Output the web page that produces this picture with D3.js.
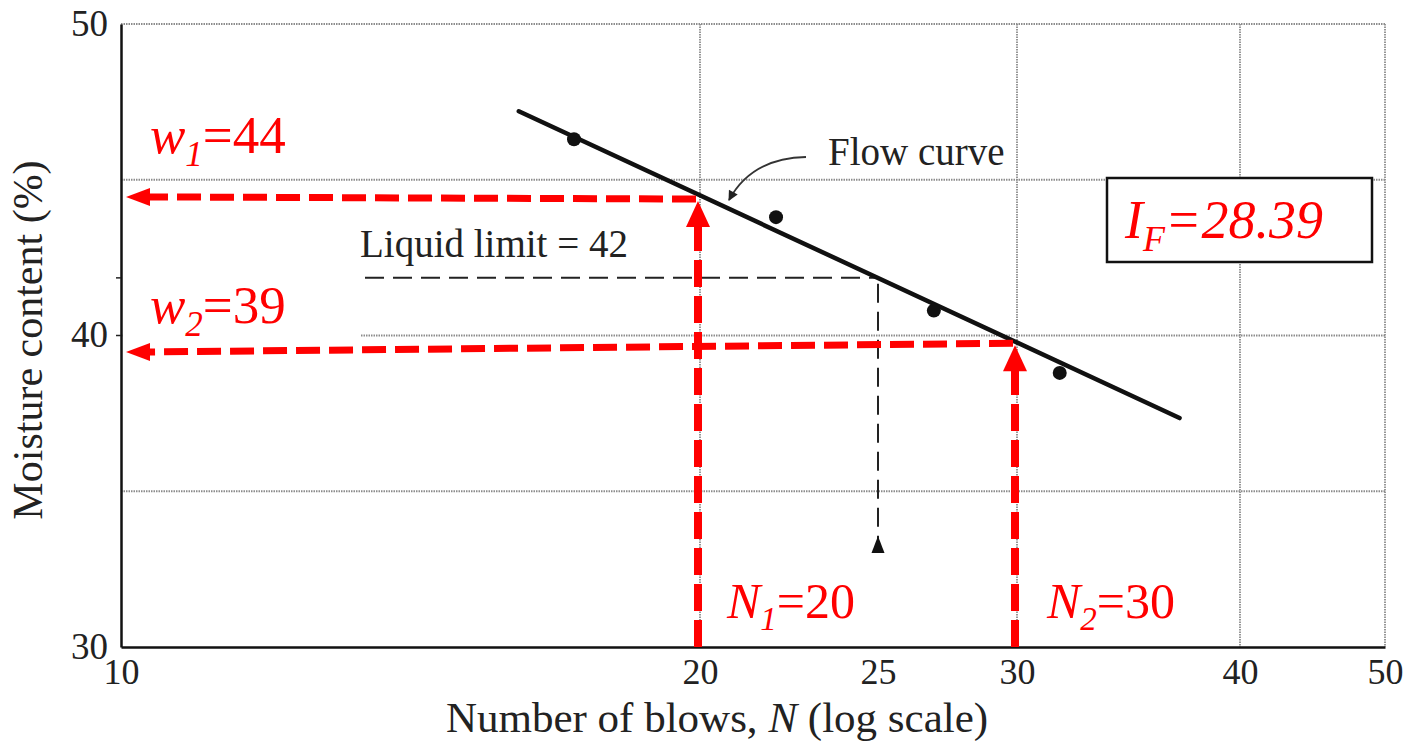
<!DOCTYPE html>
<html>
<head>
<meta charset="utf-8">
<script src="https://cdn.jsdelivr.net/npm/d3@7"></script>
<style>
  html, body { margin: 0; padding: 0; background: #fff; }
  svg { display: block; }
  text { font-family: 'Liberation Serif', 'Times New Roman', serif; }
</style>
</head>
<body>
<svg id="chart" width="1412" height="747"></svg>
<script>
// ---------- data ----------
const xTickValues = [10, 20, 25, 30, 40, 50];
const xTickLabels = ["10", "20", "25", "30", "40", "50"];
const yTickValues = [30, 40, 50];
const yTickLabels = ["30", "40", "50"];
const xGridValues = [20, 30, 40, 50];
const yGridValues = [35, 40, 45, 50];

// trial points (blows, moisture %)
const trialBlows = [17.2, 22.0, 26.9, 31.7];
const trialMoisture = [46.3, 43.8, 40.8, 38.8];

// fitted flow curve end points
const flowBlows = [16.1, 37.0];
const flowMoisture = [47.2, 37.35];

// liquid limit construction (N = 25)
const llBlows = 25;
const llMoistureDrawn = 41.85;
const llLabel = "Liquid limit = 42";

// red construction lines
const n1 = 20, n2 = 30;
const w1Drawn = [44.38, 44.45];   // [at N1, at left]
const w2Drawn = [39.75, 39.47];   // [at N2, at left]
const ifValue = "28.39";

// ---------- layout ----------
(function () {
const svg = d3.select("#chart");
const pl = 121, pr = 1385, pt = 24, pb = 647;

// piecewise log scale (hand-drawn axis calibration)
const x = d3.scaleLog()
  .domain(xTickValues)
  .range([pl, 700, 878, 1017, 1240, pr]);
const y = d3.scaleLinear().domain([30, 50]).range([pb, pt]);

const RED = "#ff0000";

// grid
const grid = svg.append("g");
grid.selectAll("line.hg").data(yGridValues).join("line")
  .attr("x1", pl).attr("x2", pr)
  .attr("y1", d => y(d)).attr("y2", d => y(d))
  .attr("stroke", "#8c8c8c").attr("stroke-width", 1.8)
  .attr("stroke-dasharray", "1.5,1");
grid.selectAll("line.vg").data(xGridValues).join("line")
  .attr("y1", pt).attr("y2", pb)
  .attr("x1", d => x(d)).attr("x2", d => x(d))
  .attr("stroke", "#8c8c8c").attr("stroke-width", 1.8)
  .attr("stroke-dasharray", "1.5,1");

// white patch behind w2 label (hides part of 40 gridline as in reference)
svg.append("rect").attr("x", pl + 2).attr("y", y(40) - 6)
  .attr("width", 237).attr("height", 10).attr("fill", "#fff");

// axes
const xAxis = d3.axisBottom(x).tickValues(xTickValues)
  .tickFormat((d, i) => xTickLabels[i]).tickSize(0).tickPadding(11);
const gx = svg.append("g").attr("transform", `translate(0,${pb})`).call(xAxis);
gx.select(".domain").attr("stroke", "#111").attr("stroke-width", 2.5);
gx.selectAll("text").attr("font-size", 36).attr("fill", "#222")
  .attr("font-family", "'Liberation Serif', serif");

const yAxis = d3.axisLeft(y).tickValues(yTickValues)
  .tickFormat((d, i) => yTickLabels[i]).tickSize(0).tickPadding(13);
const gy = svg.append("g").attr("transform", `translate(${pl},0)`).call(yAxis);
gy.select(".domain").attr("stroke", "#111").attr("stroke-width", 2.5);
gy.selectAll("text").attr("font-size", 37).attr("fill", "#222")
  .attr("dy", "0.3em").attr("font-family", "'Liberation Serif', serif");

// small outward ticks on y axis
svg.selectAll("line.yt").data([40, llMoistureDrawn]).join("line")
  .attr("x1", pl - 5).attr("x2", pl)
  .attr("y1", d => y(d)).attr("y2", d => y(d))
  .attr("stroke", "#222").attr("stroke-width", 1.5);

// axis titles
svg.append("text")
  .attr("x", 717).attr("y", 732).attr("text-anchor", "middle")
  .attr("font-size", 43).attr("fill", "#222")
  .call(t => {
    t.append("tspan").text("Number of blows, ");
    t.append("tspan").attr("font-style", "italic").text("N");
    t.append("tspan").text(" (log scale)");
  });
svg.append("text")
  .attr("transform", "translate(42,340) rotate(-90)")
  .attr("text-anchor", "middle").attr("font-size", 42).attr("fill", "#222")
  .text("Moisture content (%)");

// liquid limit construction (black dashed)
svg.append("line")
  .attr("x1", 365).attr("x2", x(llBlows))
  .attr("y1", y(llMoistureDrawn)).attr("y2", y(llMoistureDrawn))
  .attr("stroke", "#222").attr("stroke-width", 2).attr("stroke-dasharray", "19,9");
svg.append("line")
  .attr("x1", x(llBlows)).attr("x2", x(llBlows))
  .attr("y1", y(llMoistureDrawn) + 6).attr("y2", 553)
  .attr("stroke", "#222").attr("stroke-width", 2).attr("stroke-dasharray", "19,9");
svg.append("path")
  .attr("d", `M${x(llBlows)},536 L${x(llBlows) - 6.5},553 L${x(llBlows) + 6.5},553 Z`)
  .attr("fill", "#111");
svg.append("text").attr("x", 360).attr("y", 257)
  .attr("font-size", 39).attr("fill", "#222").text(llLabel);

// flow curve
svg.append("line")
  .attr("x1", x(flowBlows[0])).attr("y1", y(flowMoisture[0]))
  .attr("x2", x(flowBlows[1])).attr("y2", y(flowMoisture[1]))
  .attr("stroke", "#111").attr("stroke-width", 4.5).attr("stroke-linecap", "round");

// trial points
svg.selectAll("circle.pt").data(trialBlows).join("circle")
  .attr("cx", d => x(d)).attr("cy", (d, i) => y(trialMoisture[i]))
  .attr("r", 7).attr("fill", "#111");

// "Flow curve" label with curved arrow
const defs = svg.append("defs");
defs.append("marker").attr("id", "ah").attr("viewBox", "0 0 10 10")
  .attr("refX", 9).attr("refY", 5).attr("markerWidth", 11).attr("markerHeight", 10)
  .attr("markerUnits", "userSpaceOnUse").attr("orient", "auto")
  .append("path").attr("d", "M0,0 L10,5 L0,10 Z").attr("fill", "#222");
svg.append("path")
  .attr("d", "M806,157 Q752,158 729,200")
  .attr("fill", "none").attr("stroke", "#333").attr("stroke-width", 1.8)
  .attr("marker-end", "url(#ah)");
svg.append("text").attr("x", 828).attr("y", 165)
  .attr("font-size", 39).attr("fill", "#222").text("Flow curve");

// ---------- red construction ----------
const red = svg.append("g");
function hDash(xa, ya, xb, yb) {
  red.append("line").attr("x1", xa).attr("y1", ya).attr("x2", xb).attr("y2", yb)
    .attr("stroke", RED).attr("stroke-width", 7).attr("stroke-dasharray", "24,9");
}
// vertical N1, N2 with up arrows
[[n1, w1Drawn[0]], [n2, w2Drawn[0]]].forEach(([n, w]) => {
  const xx = x(n) - 2, tipY = y(w) + 2;
  red.append("line").attr("x1", xx).attr("x2", xx)
    .attr("y1", pb).attr("y2", tipY + 24)
    .attr("stroke", RED).attr("stroke-width", 8).attr("stroke-dasharray", "27,9");
  red.append("path")
    .attr("d", `M${xx},${tipY} L${xx - 12},${tipY + 26} L${xx + 12},${tipY + 26} Z`)
    .attr("fill", RED);
});
// horizontal w1, w2 with left arrows
[w1Drawn, w2Drawn].forEach((w, i) => {
  const xr = x(i === 0 ? n1 : n2) - 4;
  const tipX = 126;
  hDash(xr, y(w[0]), tipX + 20, y(w[1]));
  red.append("path")
    .attr("d", `M${tipX},${y(w[1])} L${tipX + 24},${y(w[1]) - 9} L${tipX + 24},${y(w[1]) + 9} Z`)
    .attr("fill", RED);
});

// red labels
function label(xp, yp, main, sub, rest, fs, allItalic) {
  const t = svg.append("text").attr("x", xp).attr("y", yp)
    .attr("font-size", fs).attr("fill", RED);
  t.append("tspan").attr("font-style", "italic").text(main);
  t.append("tspan").attr("font-style", "italic")
    .attr("font-size", Math.round(fs * 0.66)).attr("dy", Math.round(fs * 0.24)).text(sub);
  t.append("tspan").attr("dy", -Math.round(fs * 0.24))
    .attr("font-style", allItalic ? "italic" : "normal").text(rest);
}
label(150, 153, "w", "1", "=44", 53, false);
label(150, 323, "w", "2", "=39", 53, false);
label(727, 618, "N", "1", "=20", 50, false);
label(1047, 618, "N", "2", "=30", 50, false);

// I_F box
svg.append("rect").attr("x", 1107).attr("y", 178).attr("width", 265).attr("height", 84)
  .attr("fill", "#fff").attr("stroke", "#111").attr("stroke-width", 2.5);
label(1125, 238, "I", "F", "=" + ifValue, 54, true);
})();
</script>
</body>
</html>
